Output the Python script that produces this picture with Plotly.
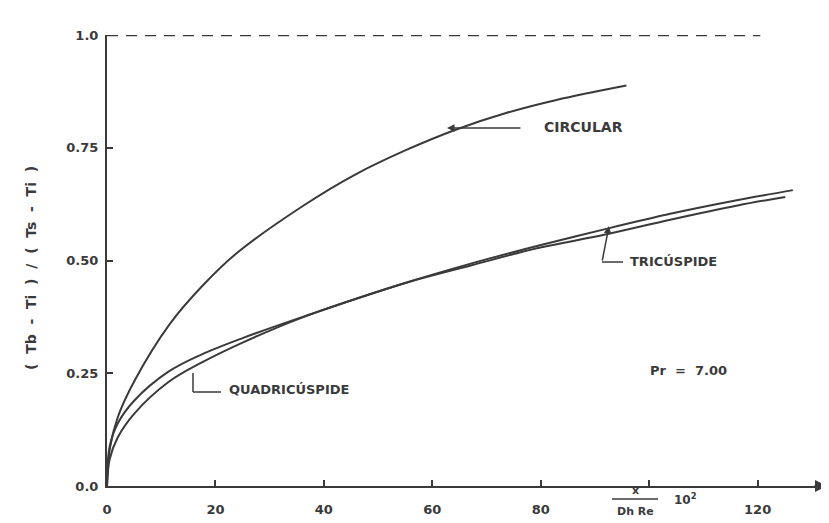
import plotly.graph_objects as go

# ---------------- data ----------------
circ_x = [0, 0.5, 2.0, 5.1, 11.5, 17.7, 23.9, 36.4, 45.7, 55.0, 64.3, 73.6, 82.9, 95.8]
circ_y = [0, 0.082, 0.153, 0.234, 0.358, 0.445, 0.516, 0.623, 0.690, 0.744, 0.790, 0.827, 0.856, 0.888]

quad_x = [0, 0.5, 2.0, 5.0, 11.4, 17.5, 25.0, 36.1, 54.7, 67.1, 79.3, 91.7, 104.1, 116.4, 126.5]
quad_y = [0, 0.060, 0.108, 0.160, 0.231, 0.274, 0.318, 0.374, 0.449, 0.493, 0.532, 0.569, 0.604, 0.634, 0.656]

tri_x = [0, 0.5, 2.0, 5.0, 11.4, 17.5, 25.0, 36.1, 54.7, 67.1, 79.3, 91.7, 104.1, 116.3, 125.1]
tri_y = [0, 0.088, 0.139, 0.189, 0.254, 0.292, 0.328, 0.375, 0.449, 0.489, 0.527, 0.557, 0.591, 0.622, 0.641]

asym_x = [0, 120.5]
asym_y = [1.0, 1.0]

x_ticks = [0, 20, 40, 60, 80, 100, 120]
x_ticktext = ["0", "20", "40", "60", "80", "", "120"]
y_ticks = [0, 0.25, 0.5, 0.75, 1.0]
y_ticktext = ["0.0", "0.25", "0.50", "0.75", "1.0"]

# ---------------- layout helpers ----------------
W, H = 829, 523
OFF = 8                      # page body margin of the html page
SX0, SX1 = 107, 827          # plot area on screen (x)
SY0, SY1 = 35, 486           # plot area on screen (y: top, bottom)
L, R = SX0 - OFF, W - (SX1 - OFF)
T, B = SY0 - OFF, H - (SY1 - OFF)
X_MAX = 132.8
INK = "#3a3a3a"
FONT = "DejaVu Sans"


def px(xs):
    return (xs - SX0) / (SX1 - SX0)


def py(ys):
    return (SY1 - ys) / (SY1 - SY0)


fig = go.Figure()
line_style = dict(color=INK, width=2)
for xs, ys, nm in [(circ_x, circ_y, "Circular"), (quad_x, quad_y, "Quadricúspide"),
                   (tri_x, tri_y, "Tricúspide")]:
    fig.add_trace(go.Scatter(x=xs, y=ys, mode="lines",
                             line=dict(line_style, shape="spline", smoothing=1.0),
                             name=nm, cliponaxis=False))
fig.add_trace(go.Scatter(x=asym_x, y=asym_y, mode="lines",
                         line=dict(color=INK, width=2.5, dash="11px,8px"),
                         name="1.0", cliponaxis=False))

tickfont = dict(family=FONT, size=13, color=INK, weight="bold")
fig.update_xaxes(range=[0, X_MAX], tickvals=x_ticks, ticktext=x_ticktext,
                 ticks="inside", ticklen=6, tickwidth=2, tickcolor=INK,
                 showline=True, linecolor=INK, linewidth=2,
                 showgrid=False, zeroline=False, tickfont=tickfont,
                 ticklabelstandoff=10, automargin=False)
fig.update_yaxes(range=[0, 1.0], tickvals=y_ticks, ticktext=y_ticktext,
                 ticks="inside", ticklen=6, tickwidth=2, tickcolor=INK,
                 showline=True, linecolor=INK, linewidth=2,
                 showgrid=False, zeroline=False, tickfont=tickfont,
                 ticklabelstandoff=4, automargin=False)

lab = dict(family=FONT, size=13, color=INK, weight="bold")


def text_ann(xs, ys, text, font, xanchor="center", **kw):
    return dict(xref="paper", yref="paper", x=px(xs), y=py(ys), text=text, showarrow=False,
                xanchor=xanchor, yanchor="middle", font=font, **kw)


def arrow_ann(tip_x, tip_y, tail_dx, tail_dy, head=2, width=1.5, size=1.0):
    return dict(xref="paper", yref="paper", x=px(tip_x), y=py(tip_y), ax=tail_dx, ay=tail_dy,
                axref="pixel", ayref="pixel", text="", showarrow=True, arrowhead=head,
                arrowsize=size, arrowwidth=width, arrowcolor=INK)


ann = [
    # x-axis arrow head
    arrow_ann(SX1, SY1, -14, 0, head=2, width=2, size=1.2),
    # y-axis title
    text_ann(31, 268, "(  Tb  -  Ti  )  /  (  Ts  -  Ti  )",
             dict(family=FONT, size=14, color=INK, weight="bold"), textangle=-90),
    # x-axis title  (x / Dh Re  10^2)
    text_ann(635, 491, "x", dict(family=FONT, size=11, color=INK, weight="bold")),
    text_ann(635, 511, "Dh Re", dict(family=FONT, size=11, color=INK, weight="bold")),
    text_ann(685, 499, "10<sup>2</sup>", dict(family=FONT, size=12, color=INK, weight="bold")),
    # curve labels
    text_ann(542, 127, "CIRCULAR", dict(lab, size=14), xanchor="left"),
    arrow_ann(447, 128, 75, 0),
    text_ann(628, 261, "TRICÚSPIDE", lab, xanchor="left"),
    arrow_ann(609, 226, -7, 36),
    text_ann(227, 389, "QUADRICÚSPIDE", lab, xanchor="left"),
    text_ann(648, 370, "Pr  =  7.00", lab, xanchor="left"),
]

shapes = [
    dict(type="line", xref="paper", yref="paper", x0=px(612), x1=px(658), y0=py(499), y1=py(499),
         line=dict(color=INK, width=1.5)),
    dict(type="line", xref="paper", yref="paper", x0=px(602), x1=px(623), y0=py(262), y1=py(262),
         line=dict(color=INK, width=1.5)),
    dict(type="line", xref="paper", yref="paper", x0=px(193), x1=px(193), y0=py(392), y1=py(373),
         line=dict(color=INK, width=1.5)),
    dict(type="line", xref="paper", yref="paper", x0=px(193), x1=px(221), y0=py(392), y1=py(392),
         line=dict(color=INK, width=1.5)),
]

fig.update_layout(width=W, height=H, margin=dict(l=L, r=R, t=T, b=B),
                  plot_bgcolor="white", paper_bgcolor="white", showlegend=False,
                  annotations=ann, shapes=shapes)

fig.write_html("out.html")
